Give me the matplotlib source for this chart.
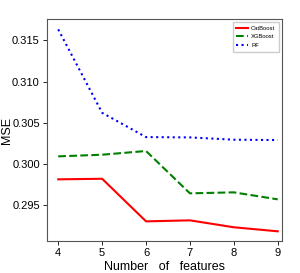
import matplotlib
matplotlib.use("Agg")
import matplotlib.pyplot as plt

plt.rcParams['font.family'] = ['Liberation Sans', 'DejaVu Sans']

n_features = [4, 5, 6, 7, 8, 9]
catboost = [0.29813, 0.29820, 0.29303, 0.29315, 0.29231, 0.29182]
xgboost = [0.30092, 0.30112, 0.30157, 0.29643, 0.29655, 0.29570]
rf = [0.31634, 0.30621, 0.30326, 0.30322, 0.30294, 0.30290]

fig = plt.figure(figsize=(3.0, 2.73), dpi=100)
ax = fig.add_axes([0.156, 0.118, 0.783, 0.811])

ax.plot(n_features, catboost, color="red", linestyle="-", linewidth=1.5, label="CatBoost")
ax.plot(n_features, xgboost, color="green", linestyle="--", linewidth=1.5, label="XGBoost")
ax.plot(n_features, rf, color="blue", linestyle=":", linewidth=1.5, label="RF")

ax.set_ylim(0.29067, 0.31755)
ax.set_xlim(3.74, 9.09)
ax.set_yticks([0.295, 0.300, 0.305, 0.310, 0.315])
ax.set_yticklabels(["0.295", "0.300", "0.305", "0.310", "0.315"])
ax.set_xticks(n_features)
ax.tick_params(labelsize=8, length=3, width=0.6, pad=2)
for s in ax.spines.values():
    s.set_color("#555555")
    s.set_linewidth(0.8)

ax.set_xlabel("Number   of   features", fontsize=9, labelpad=2)
ax.set_ylabel("MSE", fontsize=9)
ax.yaxis.set_label_coords(-0.145, 0.5)
ax.legend(loc="upper right", fontsize=4.2, handlelength=2.0, borderpad=0.6,
          labelspacing=0.6, handletextpad=0.5, framealpha=1, fancybox=False)

fig.savefig("out.png", dpi=100)
